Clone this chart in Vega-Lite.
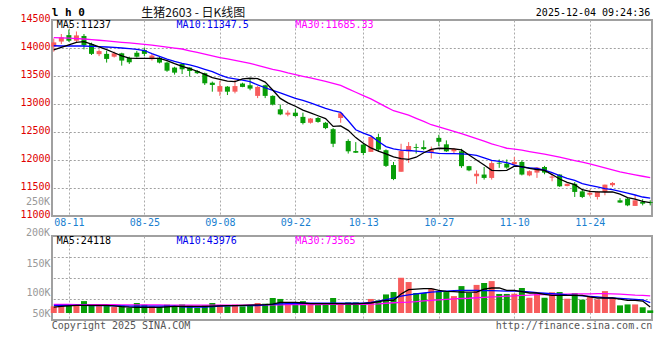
{
"$schema": "https://vega.github.io/schema/vega-lite/v6.json",
"autosize": {"type": "pad"},
"padding": {"left": 18, "top": 5, "right": 5, "bottom": 5},
"background": "white",
"bounds": "flush",
"spacing": 20,
"config": {
  "view": {"stroke": "#a0a0a0", "strokeWidth": 2},
  "axis": {"labelFont": "DejaVu Sans Mono", "labelFontSize": 10},
  "text": {"font": "DejaVu Sans Mono", "fontSize": 10}
},
"data": {"values": [
{"d":"08-07","o":14025,"h":14170,"l":13935,"c":14100,"v":28000,"m5":13965,"m10":14040,"m30":14185,"vm5":25000,"vm10":32000,"vm30":36000},
{"d":"08-08","o":14115,"h":14250,"l":14070,"c":14190,"v":31000,"m5":14010,"m10":14036,"m30":14180,"vm5":28000,"vm10":32000,"vm30":36000},
{"d":"08-11","o":14230,"h":14330,"l":14110,"c":14130,"v":35000,"m5":14054,"m10":14036,"m30":14175,"vm5":30000,"vm10":32000,"vm30":36000},
{"d":"08-12","o":14130,"h":14295,"l":14100,"c":14225,"v":36000,"m5":14100,"m10":14036,"m30":14168,"vm5":32000,"vm10":32000,"vm30":35000},
{"d":"08-13","o":14215,"h":14250,"l":13975,"c":14050,"v":50000,"m5":14113,"m10":14036,"m30":14161,"vm5":32000,"vm10":32000,"vm30":35000},
{"d":"08-14","o":14070,"h":14095,"l":13875,"c":13895,"v":31000,"m5":14071,"m10":14030,"m30":14150,"vm5":32000,"vm10":31000,"vm30":35000},
{"d":"08-15","o":13890,"h":13975,"l":13855,"c":13945,"v":31000,"m5":14020,"m10":14025,"m30":14138,"vm5":32000,"vm10":31000,"vm30":35000},
{"d":"08-18","o":13895,"h":13950,"l":13740,"c":13805,"v":31000,"m5":13970,"m10":14018,"m30":14126,"vm5":32000,"vm10":31000,"vm30":35000},
{"d":"08-19","o":13845,"h":13935,"l":13830,"c":13905,"v":25000,"m5":13915,"m10":14012,"m30":14115,"vm5":30000,"vm10":30000,"vm30":35000},
{"d":"08-20","o":13905,"h":13915,"l":13685,"c":13775,"v":31000,"m5":13860,"m10":14000,"m30":14102,"vm5":27000,"vm10":30000,"vm30":34000},
{"d":"08-21","o":13825,"h":13845,"l":13715,"c":13745,"v":22000,"m5":13820,"m10":13990,"m30":14090,"vm5":25000,"vm10":29000,"vm30":34000},
{"d":"08-22","o":13915,"h":13950,"l":13830,"c":13845,"v":42000,"m5":13815,"m10":13975,"m30":14077,"vm5":24000,"vm10":29000,"vm30":34000},
{"d":"08-25","o":13965,"h":14010,"l":13855,"c":13895,"v":35000,"m5":13815,"m10":13955,"m30":14063,"vm5":24000,"vm10":29000,"vm30":34000},
{"d":"08-26","o":13800,"h":13895,"l":13775,"c":13865,"v":28000,"m5":13815,"m10":13900,"m30":14050,"vm5":24000,"vm10":29000,"vm30":34000},
{"d":"08-27","o":13825,"h":13855,"l":13725,"c":13740,"v":25000,"m5":13815,"m10":13850,"m30":14033,"vm5":24000,"vm10":29000,"vm30":34000},
{"d":"08-28","o":13740,"h":13755,"l":13575,"c":13595,"v":35000,"m5":13775,"m10":13800,"m30":14016,"vm5":26000,"vm10":29000,"vm30":33000},
{"d":"08-29","o":13650,"h":13665,"l":13525,"c":13560,"v":28000,"m5":13720,"m10":13760,"m30":13999,"vm5":28000,"vm10":29000,"vm30":33000},
{"d":"09-01","o":13715,"h":13725,"l":13535,"c":13620,"v":36000,"m5":13670,"m10":13726,"m30":13982,"vm5":28000,"vm10":26000,"vm30":33000},
{"d":"09-02","o":13650,"h":13655,"l":13490,"c":13590,"v":31000,"m5":13630,"m10":13700,"m30":13950,"vm5":28000,"vm10":25000,"vm30":33000},
{"d":"09-03","o":13590,"h":13605,"l":13535,"c":13550,"v":22000,"m5":13585,"m10":13665,"m30":13920,"vm5":28000,"vm10":25000,"vm30":33000},
{"d":"09-04","o":13550,"h":13560,"l":13340,"c":13370,"v":32000,"m5":13530,"m10":13620,"m30":13890,"vm5":28000,"vm10":25000,"vm30":33000},
{"d":"09-05","o":13380,"h":13400,"l":13220,"c":13340,"v":42000,"m5":13470,"m10":13577,"m30":13860,"vm5":29000,"vm10":27000,"vm30":33000},
{"d":"09-08","o":13220,"h":13415,"l":13145,"c":13320,"v":34000,"m5":13440,"m10":13520,"m30":13830,"vm5":30000,"vm10":29000,"vm30":33000},
{"d":"09-09","o":13310,"h":13320,"l":13160,"c":13220,"v":28000,"m5":13410,"m10":13470,"m30":13804,"vm5":31000,"vm10":30000,"vm30":33000},
{"d":"09-10","o":13220,"h":13430,"l":13190,"c":13320,"v":35000,"m5":13400,"m10":13450,"m30":13778,"vm5":31000,"vm10":31000,"vm30":33000},
{"d":"09-11","o":13365,"h":13380,"l":13300,"c":13305,"v":28000,"m5":13450,"m10":13425,"m30":13752,"vm5":32000,"vm10":31000,"vm30":33000},
{"d":"09-12","o":13335,"h":13450,"l":13245,"c":13275,"v":34000,"m5":13460,"m10":13400,"m30":13726,"vm5":33000,"vm10":31000,"vm30":34000},
{"d":"09-15","o":13145,"h":13320,"l":13105,"c":13305,"v":42000,"m5":13452,"m10":13340,"m30":13690,"vm5":34000,"vm10":31000,"vm30":34000},
{"d":"09-16","o":13335,"h":13345,"l":13105,"c":13145,"v":39000,"m5":13390,"m10":13290,"m30":13655,"vm5":35000,"vm10":34000,"vm30":34000},
{"d":"09-17","o":13145,"h":13155,"l":12975,"c":12990,"v":63000,"m5":13250,"m10":13244,"m30":13620,"vm5":37000,"vm10":36000,"vm30":34000},
{"d":"09-18","o":12905,"h":12990,"l":12800,"c":12815,"v":59000,"m5":13100,"m10":13200,"m30":13590,"vm5":45000,"vm10":38000,"vm30":34000},
{"d":"09-19","o":12810,"h":12885,"l":12780,"c":12845,"v":42000,"m5":13020,"m10":13150,"m30":13555,"vm5":45000,"vm10":39000,"vm30":35000},
{"d":"09-22","o":12845,"h":12915,"l":12770,"c":12785,"v":42000,"m5":12960,"m10":13100,"m30":13525,"vm5":45000,"vm10":40000,"vm30":35000},
{"d":"09-23","o":12770,"h":12845,"l":12635,"c":12660,"v":50000,"m5":12890,"m10":13065,"m30":13495,"vm5":42000,"vm10":41000,"vm30":35000},
{"d":"09-24","o":12665,"h":12750,"l":12650,"c":12740,"v":39000,"m5":12840,"m10":13020,"m30":13465,"vm5":39000,"vm10":41000,"vm30":35000},
{"d":"09-25","o":12750,"h":12770,"l":12665,"c":12680,"v":38000,"m5":12790,"m10":12970,"m30":13435,"vm5":39000,"vm10":41000,"vm30":35000},
{"d":"09-26","o":12665,"h":12680,"l":12550,"c":12570,"v":39000,"m5":12740,"m10":12920,"m30":13405,"vm5":39000,"vm10":41000,"vm30":36000},
{"d":"09-29","o":12550,"h":12570,"l":12230,"c":12290,"v":63000,"m5":12600,"m10":12880,"m30":13370,"vm5":39000,"vm10":41000,"vm30":36000},
{"d":"09-30","o":12750,"h":12840,"l":12665,"c":12835,"v":39000,"m5":12610,"m10":12850,"m30":13333,"vm5":39000,"vm10":41000,"vm30":36000},
{"d":"10-09","o":12340,"h":12370,"l":12115,"c":12155,"v":45000,"m5":12530,"m10":12700,"m30":13270,"vm5":38000,"vm10":41000,"vm30":36000},
{"d":"10-10","o":12160,"h":12320,"l":12125,"c":12130,"v":45000,"m5":12400,"m10":12540,"m30":13210,"vm5":38000,"vm10":41000,"vm30":36000},
{"d":"10-13","o":12275,"h":12290,"l":12085,"c":12125,"v":39000,"m5":12300,"m10":12480,"m30":13150,"vm5":40000,"vm10":41000,"vm30":36000},
{"d":"10-14","o":12145,"h":12420,"l":12145,"c":12410,"v":59000,"m5":12215,"m10":12430,"m30":13090,"vm5":42000,"vm10":45000,"vm30":37000},
{"d":"10-15","o":12410,"h":12470,"l":12145,"c":12185,"v":53000,"m5":12160,"m10":12330,"m30":13020,"vm5":48000,"vm10":50000,"vm30":38000},
{"d":"10-16","o":12175,"h":12190,"l":11875,"c":11895,"v":78000,"m5":12110,"m10":12240,"m30":12950,"vm5":53000,"vm10":56000,"vm30":41000},
{"d":"10-17","o":11910,"h":11965,"l":11640,"c":11660,"v":88000,"m5":12055,"m10":12200,"m30":12880,"vm5":53000,"vm10":62000,"vm30":43000},
{"d":"10-20","o":11790,"h":12290,"l":11790,"c":12160,"v":148000,"m5":12024,"m10":12175,"m30":12840,"vm5":80000,"vm10":71000,"vm30":45000},
{"d":"10-21","o":12155,"h":12320,"l":11950,"c":12250,"v":130000,"m5":12012,"m10":12170,"m30":12800,"vm5":98000,"vm10":76000,"vm30":46000},
{"d":"10-22","o":12230,"h":12290,"l":12115,"c":12215,"v":84000,"m5":12050,"m10":12160,"m30":12745,"vm5":100000,"vm10":80000,"vm30":48000},
{"d":"10-23","o":12230,"h":12350,"l":12175,"c":12195,"v":84000,"m5":12130,"m10":12145,"m30":12690,"vm5":102000,"vm10":84000,"vm30":51000},
{"d":"10-24","o":12140,"h":12240,"l":12025,"c":12190,"v":102000,"m5":12190,"m10":12135,"m30":12630,"vm5":102000,"vm10":88000,"vm30":53000},
{"d":"10-27","o":12395,"h":12450,"l":12245,"c":12325,"v":92000,"m5":12210,"m10":12120,"m30":12590,"vm5":95000,"vm10":90000,"vm30":55000},
{"d":"10-28","o":12280,"h":12350,"l":12145,"c":12155,"v":88000,"m5":12205,"m10":12113,"m30":12550,"vm5":91000,"vm10":92000,"vm30":57000},
{"d":"10-29","o":12155,"h":12215,"l":12115,"c":12200,"v":71000,"m5":12200,"m10":12113,"m30":12510,"vm5":90000,"vm10":94000,"vm30":59000},
{"d":"10-30","o":12155,"h":12200,"l":11860,"c":11890,"v":113000,"m5":12180,"m10":12110,"m30":12470,"vm5":88000,"vm10":95000,"vm30":61000},
{"d":"10-31","o":11890,"h":11895,"l":11800,"c":11815,"v":85000,"m5":12090,"m10":12100,"m30":12425,"vm5":88000,"vm10":95000,"vm30":62000},
{"d":"11-03","o":11710,"h":11815,"l":11575,"c":11755,"v":118000,"m5":12000,"m10":12083,"m30":12380,"vm5":88000,"vm10":95000,"vm30":64000},
{"d":"11-04","o":11740,"h":11875,"l":11650,"c":11680,"v":126000,"m5":11910,"m10":12040,"m30":12335,"vm5":100000,"vm10":94000,"vm30":66000},
{"d":"11-05","o":11680,"h":11995,"l":11650,"c":11945,"v":134000,"m5":11815,"m10":11994,"m30":12290,"vm5":105000,"vm10":94000,"vm30":68000},
{"d":"11-06","o":11950,"h":12010,"l":11860,"c":11935,"v":80000,"m5":11810,"m10":11975,"m30":12250,"vm5":105000,"vm10":93000,"vm30":69000},
{"d":"11-07","o":11935,"h":12010,"l":11845,"c":11865,"v":80000,"m5":11815,"m10":11955,"m30":12210,"vm5":95000,"vm10":92000,"vm30":71000},
{"d":"11-10","o":11925,"h":12055,"l":11905,"c":11965,"v":81000,"m5":11890,"m10":11910,"m30":12195,"vm5":95000,"vm10":92000,"vm30":72000},
{"d":"11-11","o":11965,"h":11995,"l":11725,"c":11740,"v":105000,"m5":11880,"m10":11875,"m30":12175,"vm5":90000,"vm10":91000,"vm30":74000},
{"d":"11-12","o":11725,"h":11815,"l":11710,"c":11800,"v":64000,"m5":11850,"m10":11860,"m30":12150,"vm5":84000,"vm10":89000,"vm30":75000},
{"d":"11-13","o":11775,"h":11875,"l":11680,"c":11865,"v":81000,"m5":11830,"m10":11848,"m30":12128,"vm5":84000,"vm10":85000,"vm30":77000},
{"d":"11-14","o":11875,"h":11895,"l":11745,"c":11775,"v":64000,"m5":11815,"m10":11820,"m30":12105,"vm5":78000,"vm10":83000,"vm30":77000},
{"d":"11-17","o":11685,"h":11755,"l":11620,"c":11705,"v":87000,"m5":11740,"m10":11775,"m30":12080,"vm5":74000,"vm10":81000,"vm30":78000},
{"d":"11-18","o":11740,"h":11745,"l":11520,"c":11530,"v":88000,"m5":11660,"m10":11720,"m30":12050,"vm5":74000,"vm10":79000,"vm30":79000},
{"d":"11-19","o":11535,"h":11580,"l":11530,"c":11575,"v":60000,"m5":11600,"m10":11670,"m30":12020,"vm5":74000,"vm10":76000,"vm30":79000},
{"d":"11-20","o":11575,"h":11605,"l":11340,"c":11430,"v":84000,"m5":11560,"m10":11637,"m30":11990,"vm5":74000,"vm10":74000,"vm30":80000},
{"d":"11-21","o":11440,"h":11470,"l":11320,"c":11340,"v":56000,"m5":11470,"m10":11580,"m30":11960,"vm5":74000,"vm10":72000,"vm30":80000},
{"d":"11-24","o":11380,"h":11470,"l":11350,"c":11415,"v":67000,"m5":11440,"m10":11548,"m30":11930,"vm5":68000,"vm10":70000,"vm30":80000},
{"d":"11-25","o":11340,"h":11440,"l":11295,"c":11430,"v":57000,"m5":11430,"m10":11520,"m30":11895,"vm5":63000,"vm10":68000,"vm30":81000},
{"d":"11-26","o":11430,"h":11560,"l":11370,"c":11560,"v":92000,"m5":11429,"m10":11490,"m30":11860,"vm5":63000,"vm10":64000,"vm30":81000},
{"d":"11-27","o":11550,"h":11605,"l":11520,"c":11590,"v":64000,"m5":11429,"m10":11470,"m30":11825,"vm5":63000,"vm10":63000,"vm30":80000},
{"d":"11-28","o":11280,"h":11320,"l":11235,"c":11240,"v":32000,"m5":11390,"m10":11440,"m30":11790,"vm5":58000,"vm10":61000,"vm30":79000},
{"d":"12-01","o":11310,"h":11320,"l":11175,"c":11190,"v":36000,"m5":11330,"m10":11410,"m30":11760,"vm5":53000,"vm10":59000,"vm30":77000},
{"d":"12-02","o":11180,"h":11370,"l":11180,"c":11280,"v":36000,"m5":11300,"m10":11375,"m30":11735,"vm5":53000,"vm10":57000,"vm30":75000},
{"d":"12-03","o":11250,"h":11300,"l":11190,"c":11220,"v":24000,"m5":11262,"m10":11339,"m30":11710,"vm5":50000,"vm10":55000,"vm30":74000},
{"d":"12-04","o":11250,"h":11280,"l":11190,"c":11235,"v":11000,"m5":11237,"m10":11320,"m30":11685,"vm5":25000,"vm10":44000,"vm30":72000}
]},
"vconcat": [
{
  "width": 600,
  "height": 196,
  "encoding": {
    "x": {"field": "d", "type": "ordinal", "scale": {"type": "point", "padding": 0.235},
      "axis": {"values": ["08-11","08-25","09-08","09-22","10-13","10-27","11-10","11-24"], "title": null, "labelAngle": 0, "labelColor": "#1a7fd0", "labelPadding": 1, "ticks": false, "tickSize": 0, "domain": false, "grid": true, "gridColor": "#aaaaaa", "gridDash": [2, 2]}}
  },
  "layer": [
    {"mark": {"type": "line", "color": "#a0a0a0", "strokeDash": [2, 2], "strokeWidth": 1, "yOffset": 0.5},
     "encoding": {"y": {"datum": 11500, "type": "quantitative", "title": null, "scale": {"domain": [11000, 14500], "nice": false, "zero": false},
         "axis": {"values": [11000,11500,12000,12500,13000,13500,14000,14500], "format": "d", "title": null, "labelColor": "#e00000", "labelPadding": 2, "labelOffset": -2, "ticks": false, "tickSize": 0, "domain": false, "grid": false, "labelFlush": false, "labelOverlap": false}}}},
    {"mark": {"type": "line", "color": "#a0a0a0", "strokeDash": [2, 2], "strokeWidth": 1, "yOffset": 0.5},
     "encoding": {"y": {"datum": 12000, "type": "quantitative", "title": null,
         "axis": {"values": [11000,11500,12000,12500,13000,13500,14000,14500], "format": "d", "title": null, "labelColor": "#e00000", "labelPadding": 2, "labelOffset": -2, "ticks": false, "tickSize": 0, "domain": false, "grid": false, "labelFlush": false, "labelOverlap": false}}}},
    {"mark": {"type": "line", "color": "#a0a0a0", "strokeDash": [2, 2], "strokeWidth": 1, "yOffset": 0.5},
     "encoding": {"y": {"datum": 12500, "type": "quantitative", "title": null,
         "axis": {"values": [11000,11500,12000,12500,13000,13500,14000,14500], "format": "d", "title": null, "labelColor": "#e00000", "labelPadding": 2, "labelOffset": -2, "ticks": false, "tickSize": 0, "domain": false, "grid": false, "labelFlush": false, "labelOverlap": false}}}},
    {"mark": {"type": "line", "color": "#a0a0a0", "strokeDash": [2, 2], "strokeWidth": 1, "yOffset": 0.5},
     "encoding": {"y": {"datum": 13000, "type": "quantitative", "title": null,
         "axis": {"values": [11000,11500,12000,12500,13000,13500,14000,14500], "format": "d", "title": null, "labelColor": "#e00000", "labelPadding": 2, "labelOffset": -2, "ticks": false, "tickSize": 0, "domain": false, "grid": false, "labelFlush": false, "labelOverlap": false}}}},
    {"mark": {"type": "line", "color": "#a0a0a0", "strokeDash": [2, 2], "strokeWidth": 1, "yOffset": 0.5},
     "encoding": {"y": {"datum": 13500, "type": "quantitative", "title": null,
         "axis": {"values": [11000,11500,12000,12500,13000,13500,14000,14500], "format": "d", "title": null, "labelColor": "#e00000", "labelPadding": 2, "labelOffset": -2, "ticks": false, "tickSize": 0, "domain": false, "grid": false, "labelFlush": false, "labelOverlap": false}}}},
    {"mark": {"type": "line", "color": "#a0a0a0", "strokeDash": [2, 2], "strokeWidth": 1, "yOffset": 0.5},
     "encoding": {"y": {"datum": 14000, "type": "quantitative", "title": null,
         "axis": {"values": [11000,11500,12000,12500,13000,13500,14000,14500], "format": "d", "title": null, "labelColor": "#e00000", "labelPadding": 2, "labelOffset": -2, "ticks": false, "tickSize": 0, "domain": false, "grid": false, "labelFlush": false, "labelOverlap": false}}}},
    {"mark": {"type": "rule", "strokeWidth": 1},
     "encoding": {
       "y": {"field": "l", "type": "quantitative", "title": null,
         "axis": {"values": [11000,11500,12000,12500,13000,13500,14000,14500], "format": "d", "title": null, "labelColor": "#e00000", "labelPadding": 2, "labelOffset": -2, "ticks": false, "tickSize": 0, "domain": false, "grid": false, "labelFlush": false, "labelOverlap": false}},
       "y2": {"field": "h"},
       "color": {"condition": {"test": "datum.c >= datum.o", "value": "#f75c5c"}, "value": "#079d07"}
     }},
    {"mark": {"type": "bar", "size": 5},
     "encoding": {
       "y": {"field": "o", "type": "quantitative", "title": null,
         "axis": {"values": [11000,11500,12000,12500,13000,13500,14000,14500], "format": "d", "title": null, "labelColor": "#e00000", "labelPadding": 2, "labelOffset": -2, "ticks": false, "tickSize": 0, "domain": false, "grid": false, "labelFlush": false, "labelOverlap": false}},
       "y2": {"field": "c"},
       "color": {"condition": {"test": "datum.c >= datum.o", "value": "#f75c5c"}, "value": "#079d07"}
     }},
    {"mark": {"type": "line", "color": "#ff00ff", "strokeWidth": 1.3},
     "encoding": {"y": {"field": "m30", "type": "quantitative", "title": null,
         "axis": {"values": [11000,11500,12000,12500,13000,13500,14000,14500], "format": "d", "title": null, "labelColor": "#e00000", "labelPadding": 2, "labelOffset": -2, "ticks": false, "tickSize": 0, "domain": false, "grid": false, "labelFlush": false, "labelOverlap": false}}}},
    {"mark": {"type": "line", "color": "#0000ff", "strokeWidth": 1.3},
     "encoding": {"y": {"field": "m10", "type": "quantitative", "title": null,
         "axis": {"values": [11000,11500,12000,12500,13000,13500,14000,14500], "format": "d", "title": null, "labelColor": "#e00000", "labelPadding": 2, "labelOffset": -2, "ticks": false, "tickSize": 0, "domain": false, "grid": false, "labelFlush": false, "labelOverlap": false}}}},
    {"mark": {"type": "line", "color": "#000000", "strokeWidth": 1.3},
     "encoding": {"y": {"field": "m5", "type": "quantitative", "title": null,
         "axis": {"values": [11000,11500,12000,12500,13000,13500,14000,14500], "format": "d", "title": null, "labelColor": "#e00000", "labelPadding": 2, "labelOffset": -2, "ticks": false, "tickSize": 0, "domain": false, "grid": false, "labelFlush": false, "labelOverlap": false}}}},
    {"data": {"values": [{}]},
     "mark": {"type": "text", "align": "left", "baseline": "middle", "dx": 3, "color": "#000000"},
     "encoding": {"x": {"datum": "08-07", "type": "ordinal"}, "y": {"datum": 14402, "type": "quantitative", "title": null,
         "axis": {"values": [11000,11500,12000,12500,13000,13500,14000,14500], "format": "d", "title": null, "labelColor": "#e00000", "labelPadding": 2, "labelOffset": -2, "ticks": false, "tickSize": 0, "domain": false, "grid": false, "labelFlush": false, "labelOverlap": false}}, "text": {"value": "MA5:11237"}}},
    {"data": {"values": [{}]},
     "mark": {"type": "text", "align": "left", "baseline": "middle", "dx": 2, "color": "#0000ee"},
     "encoding": {"x": {"datum": "08-29", "type": "ordinal"}, "y": {"datum": 14402, "type": "quantitative", "title": null,
         "axis": {"values": [11000,11500,12000,12500,13000,13500,14000,14500], "format": "d", "title": null, "labelColor": "#e00000", "labelPadding": 2, "labelOffset": -2, "ticks": false, "tickSize": 0, "domain": false, "grid": false, "labelFlush": false, "labelOverlap": false}}, "text": {"value": "MA10:11347.5"}}},
    {"data": {"values": [{}]},
     "mark": {"type": "text", "align": "left", "baseline": "middle", "dx": 0, "color": "#ff00ff"},
     "encoding": {"x": {"datum": "09-22", "type": "ordinal"}, "y": {"datum": 14402, "type": "quantitative", "title": null,
         "axis": {"values": [11000,11500,12000,12500,13000,13500,14000,14500], "format": "d", "title": null, "labelColor": "#e00000", "labelPadding": 2, "labelOffset": -2, "ticks": false, "tickSize": 0, "domain": false, "grid": false, "labelFlush": false, "labelOverlap": false}}, "text": {"value": "MA30:11685.33"}}},
    {"data": {"values": [{}]},
     "mark": {"type": "text", "align": "left", "baseline": "middle", "dx": -2, "color": "#000000", "fontWeight": "bold", "fontSize": 11},
     "encoding": {"x": {"datum": "08-07", "type": "ordinal"}, "y": {"datum": 14625, "type": "quantitative", "title": null,
         "axis": {"values": [11000,11500,12000,12500,13000,13500,14000,14500], "format": "d", "title": null, "labelColor": "#e00000", "labelPadding": 2, "labelOffset": -2, "ticks": false, "tickSize": 0, "domain": false, "grid": false, "labelFlush": false, "labelOverlap": false}}, "text": {"value": "l h 0"}}},
    {"data": {"values": [{}]},
     "mark": {"type": "text", "align": "left", "baseline": "middle", "dx": -3, "color": "#111111", "font": "Noto Sans CJK SC", "fontSize": 12},
     "encoding": {"x": {"datum": "08-25", "type": "ordinal"}, "y": {"datum": 14625, "type": "quantitative", "title": null,
         "axis": {"values": [11000,11500,12000,12500,13000,13500,14000,14500], "format": "d", "title": null, "labelColor": "#e00000", "labelPadding": 2, "labelOffset": -2, "ticks": false, "tickSize": 0, "domain": false, "grid": false, "labelFlush": false, "labelOverlap": false}}, "text": {"value": "生猪2603 - 日K线图"}}},
    {"data": {"values": [{}]},
     "mark": {"type": "text", "align": "right", "baseline": "middle", "dx": 0, "color": "#000000"},
     "encoding": {"x": {"datum": "12-04", "type": "ordinal"}, "y": {"datum": 14625, "type": "quantitative", "title": null,
         "axis": {"values": [11000,11500,12000,12500,13000,13500,14000,14500], "format": "d", "title": null, "labelColor": "#e00000", "labelPadding": 2, "labelOffset": -2, "ticks": false, "tickSize": 0, "domain": false, "grid": false, "labelFlush": false, "labelOverlap": false}}, "text": {"value": "2025-12-04 09:24:36"}}}
  ]
},
{
  "width": 600,
  "height": 84,
  "encoding": {
    "x": {"field": "d", "type": "ordinal", "scale": {"type": "point", "padding": 0.235},
      "axis": {"values": ["08-11","08-25","09-08","09-22","10-13","10-27","11-10","11-24"], "title": null, "labels": false, "ticks": false, "tickSize": 0, "domain": false, "grid": true, "gridColor": "#aaaaaa", "gridDash": [2, 2]}}
  },
  "layer": [
    {"mark": {"type": "line", "color": "#a0a0a0", "strokeDash": [2, 2], "strokeWidth": 1, "yOffset": 0.5},
     "encoding": {"y": {"datum": 58800, "type": "quantitative", "title": null, "scale": {"domain": [-29400, 323400], "nice": false, "zero": false},
         "axis": {"values": [0, 88200, 207900], "title": null, "labelExpr": "datum.value == 0 ? '50K' : datum.value == 88200 ? '100K' : '150K'", "labelColor": "#999999", "labelPadding": 2, "ticks": false, "tickSize": 0, "domain": false, "labelFlush": false, "labelOverlap": false, "grid": false}}}},
    {"mark": {"type": "line", "color": "#a0a0a0", "strokeDash": [2, 2], "strokeWidth": 1, "yOffset": 0.5},
     "encoding": {"y": {"datum": 147000, "type": "quantitative", "title": null,
         "axis": {"values": [0, 88200, 207900], "title": null, "labelExpr": "datum.value == 0 ? '50K' : datum.value == 88200 ? '100K' : '150K'", "labelColor": "#999999", "labelPadding": 2, "ticks": false, "tickSize": 0, "domain": false, "labelFlush": false, "labelOverlap": false, "grid": false}}}},
    {"mark": {"type": "line", "color": "#a0a0a0", "strokeDash": [2, 2], "strokeWidth": 1, "yOffset": 0.5},
     "encoding": {"y": {"datum": 235200, "type": "quantitative", "title": null,
         "axis": {"values": [0, 88200, 207900], "title": null, "labelExpr": "datum.value == 0 ? '50K' : datum.value == 88200 ? '100K' : '150K'", "labelColor": "#999999", "labelPadding": 2, "ticks": false, "tickSize": 0, "domain": false, "labelFlush": false, "labelOverlap": false, "grid": false}}}},
    {"mark": {"type": "bar", "size": 6},
     "encoding": {
       "y": {"field": "v", "type": "quantitative", "title": null,
         "axis": {"values": [0, 88200, 207900], "title": null, "labelExpr": "datum.value == 0 ? '50K' : datum.value == 88200 ? '100K' : '150K'", "labelColor": "#999999", "labelPadding": 2, "ticks": false, "tickSize": 0, "domain": false, "labelFlush": false, "labelOverlap": false, "grid": false}},
       "y2": {"datum": 0},
       "color": {"condition": {"test": "datum.c >= datum.o", "value": "#f75c5c"}, "value": "#079d07"}
     }},
    {"mark": {"type": "line", "color": "#ff00ff", "strokeWidth": 1.3},
     "encoding": {"y": {"field": "vm30", "type": "quantitative", "title": null,
         "axis": {"values": [0, 88200, 207900], "title": null, "labelExpr": "datum.value == 0 ? '50K' : datum.value == 88200 ? '100K' : '150K'", "labelColor": "#999999", "labelPadding": 2, "ticks": false, "tickSize": 0, "domain": false, "labelFlush": false, "labelOverlap": false, "grid": false}}}},
    {"mark": {"type": "line", "color": "#0000ff", "strokeWidth": 1.3},
     "encoding": {"y": {"field": "vm10", "type": "quantitative", "title": null,
         "axis": {"values": [0, 88200, 207900], "title": null, "labelExpr": "datum.value == 0 ? '50K' : datum.value == 88200 ? '100K' : '150K'", "labelColor": "#999999", "labelPadding": 2, "ticks": false, "tickSize": 0, "domain": false, "labelFlush": false, "labelOverlap": false, "grid": false}}}},
    {"mark": {"type": "line", "color": "#000000", "strokeWidth": 1.3},
     "encoding": {"y": {"field": "vm5", "type": "quantitative", "title": null,
         "axis": {"values": [0, 88200, 207900], "title": null, "labelExpr": "datum.value == 0 ? '50K' : datum.value == 88200 ? '100K' : '150K'", "labelColor": "#999999", "labelPadding": 2, "ticks": false, "tickSize": 0, "domain": false, "labelFlush": false, "labelOverlap": false, "grid": false}}}},
    {"data": {"values": [{}]},
     "mark": {"type": "text", "align": "left", "baseline": "middle", "dx": 3, "color": "#000000"},
     "encoding": {"x": {"datum": "08-07", "type": "ordinal"}, "y": {"datum": 302400, "type": "quantitative", "title": null,
         "axis": {"values": [0, 88200, 207900], "title": null, "labelExpr": "datum.value == 0 ? '50K' : datum.value == 88200 ? '100K' : '150K'", "labelColor": "#999999", "labelPadding": 2, "ticks": false, "tickSize": 0, "domain": false, "labelFlush": false, "labelOverlap": false, "grid": false}}, "text": {"value": "MA5:24118"}}},
    {"data": {"values": [{}]},
     "mark": {"type": "text", "align": "left", "baseline": "middle", "dx": 2, "color": "#0000ee"},
     "encoding": {"x": {"datum": "08-29", "type": "ordinal"}, "y": {"datum": 302400, "type": "quantitative", "title": null,
         "axis": {"values": [0, 88200, 207900], "title": null, "labelExpr": "datum.value == 0 ? '50K' : datum.value == 88200 ? '100K' : '150K'", "labelColor": "#999999", "labelPadding": 2, "ticks": false, "tickSize": 0, "domain": false, "labelFlush": false, "labelOverlap": false, "grid": false}}, "text": {"value": "MA10:43976"}}},
    {"data": {"values": [{}]},
     "mark": {"type": "text", "align": "left", "baseline": "middle", "dx": 0, "color": "#ff00ff"},
     "encoding": {"x": {"datum": "09-22", "type": "ordinal"}, "y": {"datum": 302400, "type": "quantitative", "title": null,
         "axis": {"values": [0, 88200, 207900], "title": null, "labelExpr": "datum.value == 0 ? '50K' : datum.value == 88200 ? '100K' : '150K'", "labelColor": "#999999", "labelPadding": 2, "ticks": false, "tickSize": 0, "domain": false, "labelFlush": false, "labelOverlap": false, "grid": false}}, "text": {"value": "MA30:73565"}}},
    {"data": {"values": [{}]},
     "mark": {"type": "text", "align": "right", "baseline": "middle", "dx": -3.8, "color": "#999999"},
     "encoding": {"x": {"datum": "08-07", "type": "ordinal"}, "y": {"datum": 336000, "type": "quantitative", "title": null,
         "axis": {"values": [0, 88200, 207900], "title": null, "labelExpr": "datum.value == 0 ? '50K' : datum.value == 88200 ? '100K' : '150K'", "labelColor": "#999999", "labelPadding": 2, "ticks": false, "tickSize": 0, "domain": false, "labelFlush": false, "labelOverlap": false, "grid": false}}, "text": {"value": "200K"}}},
    {"data": {"values": [{}]},
     "mark": {"type": "text", "align": "right", "baseline": "middle", "dx": -3.8, "color": "#999999"},
     "encoding": {"x": {"datum": "08-07", "type": "ordinal"}, "y": {"datum": 466200, "type": "quantitative", "title": null,
         "axis": {"values": [0, 88200, 207900], "title": null, "labelExpr": "datum.value == 0 ? '50K' : datum.value == 88200 ? '100K' : '150K'", "labelColor": "#999999", "labelPadding": 2, "ticks": false, "tickSize": 0, "domain": false, "labelFlush": false, "labelOverlap": false, "grid": false}}, "text": {"value": "250K"}}},
    {"data": {"values": [{}]},
     "mark": {"type": "text", "align": "left", "baseline": "middle", "dx": -2, "color": "#555555"},
     "encoding": {"x": {"datum": "08-07", "type": "ordinal"}, "y": {"datum": -54600, "type": "quantitative", "title": null,
         "axis": {"values": [0, 88200, 207900], "title": null, "labelExpr": "datum.value == 0 ? '50K' : datum.value == 88200 ? '100K' : '150K'", "labelColor": "#999999", "labelPadding": 2, "ticks": false, "tickSize": 0, "domain": false, "labelFlush": false, "labelOverlap": false, "grid": false}}, "text": {"value": "Copyright 2025 SINA.COM"}}},
    {"data": {"values": [{}]},
     "mark": {"type": "text", "align": "right", "baseline": "middle", "dx": 2, "color": "#555555"},
     "encoding": {"x": {"datum": "12-04", "type": "ordinal"}, "y": {"datum": -54600, "type": "quantitative", "title": null,
         "axis": {"values": [0, 88200, 207900], "title": null, "labelExpr": "datum.value == 0 ? '50K' : datum.value == 88200 ? '100K' : '150K'", "labelColor": "#999999", "labelPadding": 2, "ticks": false, "tickSize": 0, "domain": false, "labelFlush": false, "labelOverlap": false, "grid": false}}, "text": {"value": "http://finance.sina.com.cn"}}}
  ]
}
]
}
